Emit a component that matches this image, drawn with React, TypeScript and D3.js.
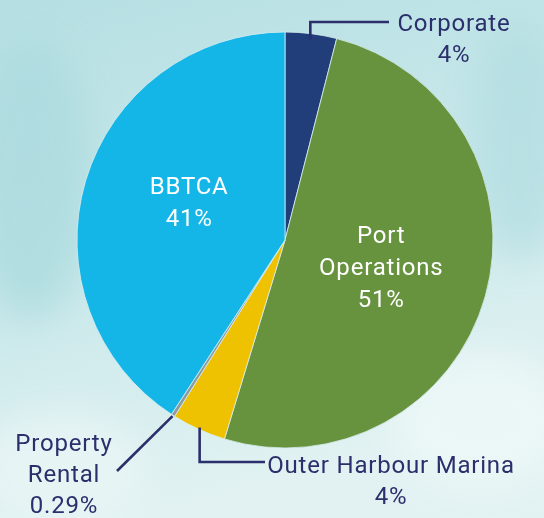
import React, { useRef, useEffect } from "react";
import * as d3 from "d3";

const categories = ["Corporate", "Port Operations", "Outer Harbour Marina", "Property Rental", "BBTCA"];
const shares = [4.0, 50.7, 4.2, 0.29, 40.81];
const shareLabels = ["4%", "51%", "4%", "0.29%", "41%"];
const colors = ["#213e7a", "#67933f", "#eec200", "#8d9aa0", "#14b6e8"];

const App = () => {
  const ref = useRef<SVGSVGElement>(null);

  useEffect(() => {
    const width = 544;
    const height = 518;
    const cx = 285;
    const cy = 240;
    const radius = 208;
    const ink = "#2b2f6b";
    const font = "Roboto, 'DejaVu Sans', sans-serif";

    const svg = d3.select(ref.current);
    svg.selectAll("*").remove();

    // watercolor-ish background
    const defs = svg.append("defs");
    const grad = defs
      .append("linearGradient")
      .attr("id", "bg")
      .attr("x1", 0)
      .attr("y1", 0)
      .attr("x2", 0.3)
      .attr("y2", 1);
    grad.append("stop").attr("offset", "0%").attr("stop-color", "#b5dfe3");
    grad.append("stop").attr("offset", "55%").attr("stop-color", "#cbe9eb");
    grad.append("stop").attr("offset", "100%").attr("stop-color", "#e2f2f2");
    defs
      .append("filter")
      .attr("id", "blur")
      .append("feGaussianBlur")
      .attr("stdDeviation", 18);

    svg.append("rect").attr("width", width).attr("height", height).attr("fill", "url(#bg)");
    const blobs = svg.append("g").attr("filter", "url(#blur)");
    blobs.append("ellipse").attr("cx", 30).attr("cy", 180).attr("rx", 60).attr("ry", 140).attr("fill", "#a8d8dd").attr("opacity", 0.7);
    blobs.append("ellipse").attr("cx", 520).attr("cy", 140).attr("rx", 50).attr("ry", 120).attr("fill", "#b0dde1").attr("opacity", 0.7);
    blobs.append("ellipse").attr("cx", 480).attr("cy", 420).attr("rx", 90).attr("ry", 70).attr("fill", "#eef8f8").attr("opacity", 0.8);
    blobs.append("ellipse").attr("cx", 60).attr("cy", 470).attr("rx", 90).attr("ry", 60).attr("fill", "#e8f5f5").attr("opacity", 0.8);

    const g = svg.append("g").attr("transform", `translate(${cx},${cy})`);

    const pie = d3
      .pie<number>()
      .sort(null)
      .value((d) => d);
    const arcs = pie(shares);

    const arc = d3.arc<d3.PieArcDatum<number>>().innerRadius(0).outerRadius(radius);
    const labelArc = d3.arc<d3.PieArcDatum<number>>().innerRadius(100).outerRadius(100);

    g.selectAll("path.slice")
      .data(arcs)
      .enter()
      .append("path")
      .attr("class", "slice")
      .attr("d", arc)
      .attr("fill", (d, i) => colors[i])
      .attr("stroke", "#d8eef0")
      .attr("stroke-width", 0.8);

    // labels inside the big slices
    const inside = [
      { i: 4, lines: ["BBTCA", shareLabels[4]], dy: -10 },
      { i: 1, lines: ["Port", "Operations", shareLabels[1]], dy: 0 },
    ];
    inside.forEach(({ i, lines, dy }) => {
      const [x, y] = labelArc.centroid(arcs[i]);
      const t = g
        .append("text")
        .attr("text-anchor", "middle")
        .attr("font-family", font)
        .attr("font-size", 24)
        .attr("letter-spacing", 0.8)
        .attr("fill", "#ffffff");
      lines.forEach((l, k) => {
        t.append("tspan")
          .attr("x", x)
          .attr("y", y + dy + (k - (lines.length - 1) / 2) * 32 + 8)
          .text(l);
      });
    });

    const mid = (d: d3.PieArcDatum<number>) => (d.startAngle + d.endAngle) / 2;
    const edge = (d: d3.PieArcDatum<number>, r: number) => {
      const a = mid(d);
      return [Math.sin(a) * r + cx, -Math.cos(a) * r + cy];
    };

    const lines = svg.append("g").attr("fill", "none").attr("stroke", ink).attr("stroke-width", 2.6);

    // Corporate
    const [c0x, c0y] = edge(arcs[0], 202);
    lines.append("path").attr("d", `M${c0x},${c0y}V22H389`);
    // Outer Harbour Marina
    const [o0x, o0y] = edge(arcs[2], 206);
    lines.append("path").attr("d", `M${o0x},${o0y}V462H265`);
    // Property Rental
    const [p0x, p0y] = edge(arcs[3], 209);
    lines.append("path").attr("d", `M${p0x},${p0y}L117,471`);

    const outside = [
      { x: 454, y: 31, lines: [categories[0], shareLabels[0]] },
      { x: 391, y: 473, lines: [categories[2], shareLabels[2]] },
      { x: 64, y: 451, lines: ["Property", "Rental", shareLabels[3]] },
    ];
    outside.forEach(({ x, y, lines: ls }) => {
      const t = svg
        .append("text")
        .attr("text-anchor", "middle")
        .attr("font-family", font)
        .attr("font-size", 24)
        .attr("letter-spacing", 0.8)
        .attr("fill", ink);
      ls.forEach((l, k) => {
        t.append("tspan").attr("x", x).attr("y", y + k * 31).text(l);
      });
    });
  }, []);

  return (
    <svg
      ref={ref}
      width={544}
      height={518}
      style={{ position: "absolute", left: 0, top: 0, display: "block" }}
    />
  );
};

export default App;
